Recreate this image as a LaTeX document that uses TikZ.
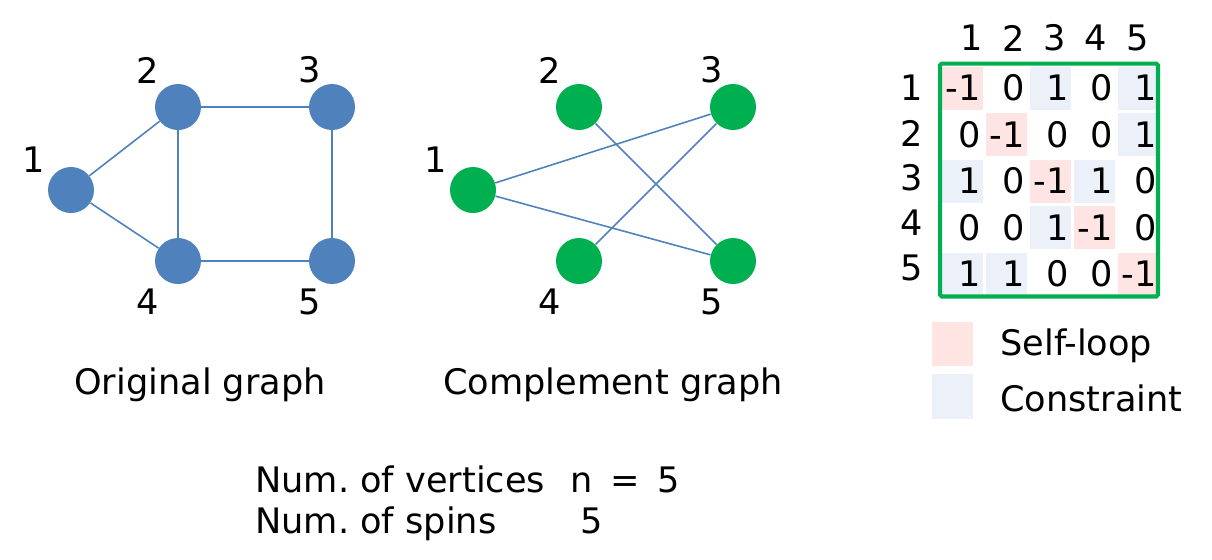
\documentclass[tikz,border=0pt]{standalone}
\usepackage{fontspec}
\setmainfont{DejaVu Sans}
\frenchspacing
\definecolor{vblue}{RGB}{79,129,189}
\definecolor{vgreen}{RGB}{0,176,80}
\definecolor{selfc}{RGB}{255,228,228}
\definecolor{consc}{RGB}{236,240,248}
\begin{document}
\begin{tikzpicture}[x=0.02cm, y=-0.02cm,
    every node/.style={font=\fontsize{20}{24}\selectfont, inner sep=0pt},
    vtxA/.style={circle, fill=vblue, minimum size=0.92cm},
    vtxB/.style={circle, fill=vgreen, minimum size=0.92cm},
    edge/.style={vblue, line width=0.9pt},
    cell/.style={minimum width=0.82cm, minimum height=0.86cm, text width=0.76cm, align=right}]
    \useasboundingbox (0,0) rectangle (1212,559);

    % Đồ thị gốc
    \foreach \n/\x/\y in {1/71/190, 2/178/107, 3/332/107, 4/178/261, 5/332/261}
        \node[vtxA] (a\n) at (\x,\y) {};
    \foreach \u/\v in {1/2, 1/4, 2/3, 2/4, 3/5, 4/5}
        \draw[edge] (a\u) -- (a\v);
    \foreach \n/\x/\y in {1/34/160, 2/148/70, 3/310/70, 4/148/302, 5/310/302}
        \node (la\n) at (\x,\y) {\n};
    \node[anchor=base] (ta) at (200,394) {Original graph};

    % Đồ thị bù
    \foreach \n/\x/\y in {1/473/190, 2/579/107, 3/733/107, 4/579/261, 5/733/261}
        \node[vtxB] (b\n) at (\x,\y) {};
    \foreach \u/\v in {1/3, 1/5, 2/5, 4/3}
        \draw[edge] (b\u) -- (b\v);
    \foreach \n/\x/\y in {1/436/160, 2/550/70, 3/712/70, 4/550/302, 5/712/302}
        \node (lb\n) at (\x,\y) {\n};
    \node[anchor=base] (tb) at (613,394) {Complement graph};

    % Ma trận
    \foreach \r/\row in {1/{-1/selfc,0/white,1/consc,0/white,1/consc},
                         2/{0/white,-1/selfc,0/white,0/white,1/consc},
                         3/{1/consc,0/white,-1/selfc,1/consc,0/white},
                         4/{0/white,0/white,1/consc,-1/selfc,0/white},
                         5/{1/consc,1/consc,0/white,0/white,-1/selfc}}
        \foreach \v/\f [count=\c] in \row
            \node[cell, fill=\f] (m\r\c) at ({962+(\c-1)*44},{88+(\r-1)*46.5}) {\v};
    \node[draw=vgreen, line width=2.3pt, rounded corners=1pt,
          minimum width=4.36cm, minimum height=4.66cm] (frame) at (1049,180) {};
    \foreach \c in {1,...,5}
        \node (col\c) at ({972+(\c-1)*41.3},38) {\c};
    \foreach \r in {1,...,5}
        \node (row\r) at (912,{88+(\r-1)*45}) {\r};

    % Chú thích
    \node[fill=selfc, minimum width=0.82cm, minimum height=0.88cm] (kself) at (952,344) {};
    \node[fill=consc, minimum width=0.82cm, minimum height=0.9cm] (kcons) at (952,396) {};
    \node[anchor=west] (tself) at (1000,346) {Self-loop};
    \node[anchor=west] (tcons) at (1000,398) {Constraint};

    % Số đỉnh, số spin
    \node[anchor=base west] (nv) at (255,492) {Num. of vertices};
    \node[anchor=base west] (nn) at (570,492) {n\hspace{10pt}=\hspace{10pt}5};
    \node[anchor=base west] (ns) at (255,533) {Num. of spins};
    \node[anchor=base west] (nk) at (580,533) {5};
\end{tikzpicture}
\end{document}
